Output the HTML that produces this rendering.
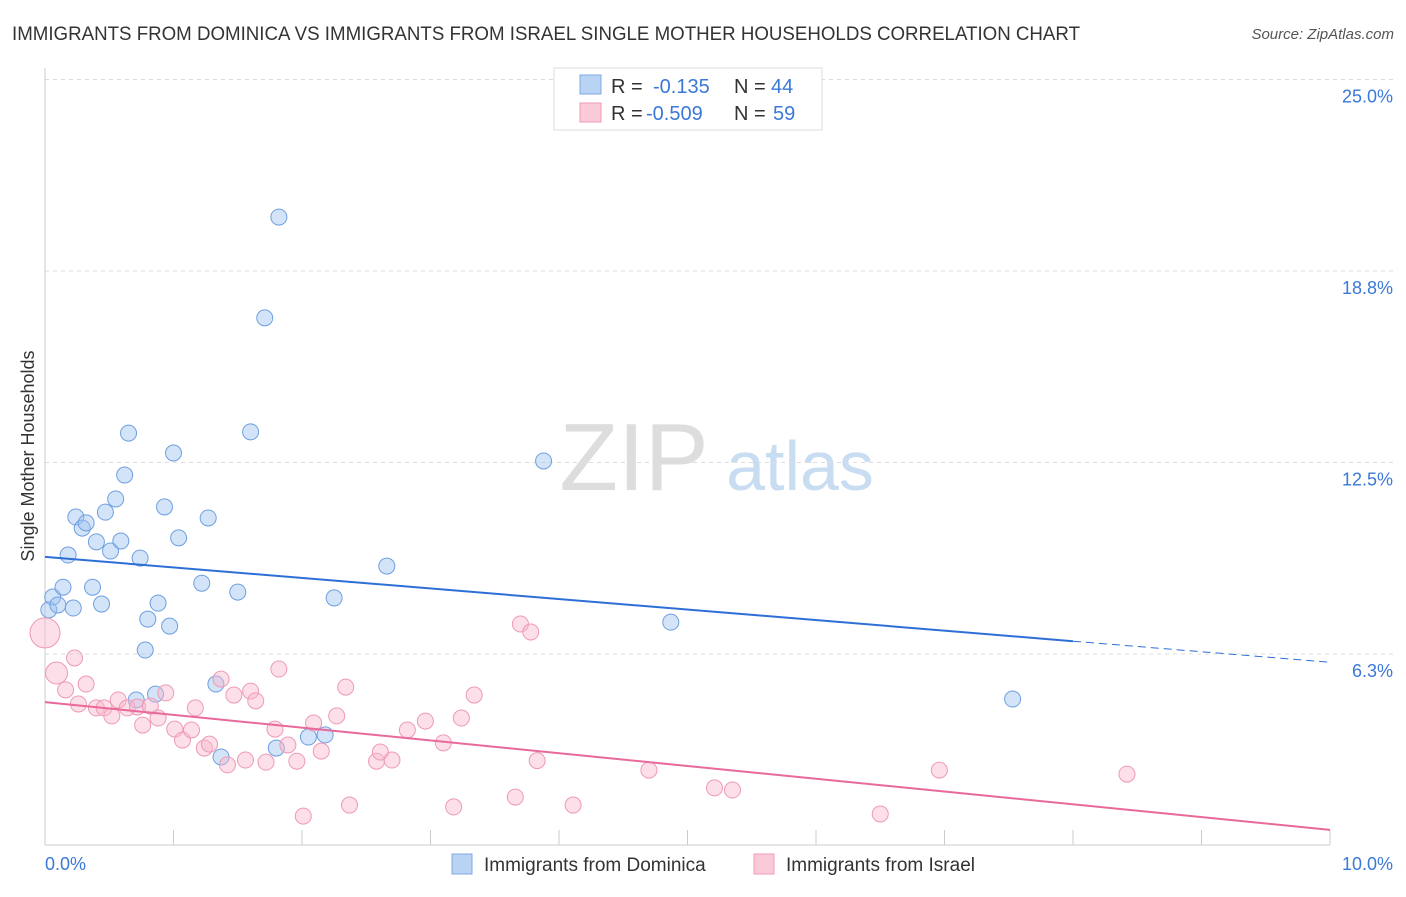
<!DOCTYPE html>
<html><head><meta charset="utf-8"><style>
body{margin:0;background:#fff;font-family:"Liberation Sans",sans-serif;}
svg text{font-family:"Liberation Sans",sans-serif;}
</style></head><body>
<svg id="chart" width="1406" height="892" xmlns="http://www.w3.org/2000/svg">
<text x="12" y="40" font-size="19" fill="#333" textLength="1068" lengthAdjust="spacingAndGlyphs">IMMIGRANTS FROM DOMINICA VS IMMIGRANTS FROM ISRAEL SINGLE MOTHER HOUSEHOLDS CORRELATION CHART</text>
<text x="1394" y="39" font-size="15" fill="#555" font-style="italic" text-anchor="end">Source: ZipAtlas.com</text>
<text transform="translate(34,456) rotate(-90)" font-size="18" fill="#333" text-anchor="middle">Single Mother Households</text>
<g>
<text x="634" y="490" font-size="96" fill="#ddd" font-family="Liberation Serif" text-anchor="middle">ZIP</text>
<text x="800" y="490" font-size="70" fill="#c8dcf2" text-anchor="middle">atlas</text>
</g>
<g id="grid"></g><g id="axes"></g><g id="pts"></g><g id="trend"></g>
<g>
<rect x="554" y="68" width="268" height="62" fill="#fff" stroke="#ddd"/>
<rect x="580" y="75" width="21" height="19" fill="#b9d3f5" stroke="#7fa9e4"/>
<rect x="580" y="103" width="21" height="19" fill="#fbcad8" stroke="#f09ab5"/>
<text x="611" y="93" font-size="20" fill="#333">R = </text><text x="653" y="93" font-size="20" fill="#3b78d8">-0.135</text>
<text x="734" y="93" font-size="20" fill="#333">N = </text><text x="771" y="93" font-size="20" fill="#3b78d8">44</text>
<text x="611" y="120" font-size="20" fill="#333">R = </text><text x="646" y="120" font-size="20" fill="#3b78d8">-0.509</text>
<text x="734" y="120" font-size="20" fill="#333">N = </text><text x="773" y="120" font-size="20" fill="#3b78d8">59</text>
</g>
<g>
<rect x="452" y="854" width="20" height="20" fill="#b9d3f5" stroke="#7fa9e4"/>
<text x="484" y="871" font-size="19" fill="#333">Immigrants from Dominica</text>
<rect x="754" y="854" width="20" height="20" fill="#fbcad8" stroke="#f09ab5"/>
<text x="786" y="871" font-size="19" fill="#333">Immigrants from Israel</text>
</g>
</svg>
<script>
const yTicks=[6.25,12.5,18.75,25];
const yTickLabels=["6.3%","12.5%","18.8%","25.0%"];
const xTickLabels=["0.0%","10.0%"];
const domX=[0.03,0.06,0.10,0.14,0.18,0.22,0.24,0.29,0.32,0.37,0.40,0.44,0.47,0.51,0.55,0.59,0.62,0.65,0.71,0.74,0.78,0.80,0.86,0.88,0.93,0.97,1.00,1.04,1.22,1.27,1.33,1.37,1.50,1.60,1.71,1.80,1.82,2.05,2.18,2.25,2.66,3.88,4.87,7.53];
const domY=[7.69,8.11,7.85,8.43,9.48,7.75,10.72,10.36,10.53,8.43,9.91,7.88,10.88,9.61,11.31,9.94,12.09,13.46,4.75,9.38,6.38,7.39,4.94,7.91,11.05,7.16,12.81,10.04,8.56,10.69,5.27,2.89,8.27,13.50,17.22,3.18,20.51,3.54,3.61,8.08,9.12,12.55,7.29,4.78];
const isrX=[0.00,0.09,0.23,0.16,0.32,0.26,0.40,0.46,0.57,0.52,0.64,0.72,0.76,0.82,0.88,0.94,1.01,1.07,1.14,1.17,1.24,1.28,1.37,1.42,1.47,1.56,1.60,1.64,1.72,1.79,1.82,1.89,1.96,2.01,2.09,2.15,2.27,2.34,2.37,2.58,2.61,2.70,2.82,2.96,3.10,3.18,3.24,3.34,3.66,3.70,3.78,3.83,4.11,4.70,5.21,5.35,6.50,6.96,8.42];
const isrY=[6.94,5.63,6.12,5.08,5.27,4.62,4.49,4.49,4.75,4.23,4.49,4.52,3.93,4.55,4.16,4.98,3.80,3.44,3.77,4.49,3.18,3.31,5.43,2.63,4.91,2.79,5.04,4.72,2.72,3.80,5.76,3.28,2.75,0.96,4.00,3.08,4.23,5.17,1.32,2.75,3.05,2.79,3.77,4.06,3.35,1.26,4.16,4.91,1.58,7.23,6.97,2.77,1.32,2.46,1.88,1.81,1.03,2.46,2.33];
const domTrend=[9.42,-0.344];
const isrTrend=[4.68,-0.417];
const X=v=>45+v*128.5, Y=v=>845.5-v*30.64;
const NS="http://www.w3.org/2000/svg";
function mk(tag,attrs,parent){const e=document.createElementNS(NS,tag);for(const k in attrs)e.setAttribute(k,attrs[k]);document.getElementById(parent).appendChild(e);return e;}
yTicks.forEach((t,i)=>{
 const g=mk('line',{x1:45,x2:1395,y1:Y(t),y2:Y(t),stroke:'#ddd','stroke-dasharray':'4,4'},'grid');
 
 
 const l=mk('text',{x:1393,y:Y(t)+23,'font-size':18,fill:'#3b78d8','text-anchor':'end'},'grid');l.textContent=yTickLabels[i];
 
 
});
mk('line',{x1:45,x2:45,y1:68,y2:845,stroke:'#ccc'},'axes');
mk('line',{x1:45,x2:1330,y1:845,y2:845,stroke:'#ccc'},'axes');
for(let i=1;i<=10;i++){const t=mk('line',{x1:X(i),x2:X(i),y1:830,y2:845,stroke:'#ccc'},'axes');
 
 }
[[0,45,'start'],[10,1393,'end']].forEach((a,i)=>{const t=mk('text',{x:a[1],y:870,'font-size':18,fill:'#3b78d8','text-anchor':a[2]},'axes');t.textContent=xTickLabels[i];
 
 });
domX.forEach((x,i)=>{const c=mk('circle',{cx:X(x),cy:Y(domY[i]),r:8,fill:'rgba(160,195,240,0.45)',stroke:'#6e9fe0','stroke-width':1},'pts');
 
 });
isrX.forEach((x,i)=>{const r=i==0?15:(i==1?11:8);const c=mk('circle',{cx:X(x),cy:Y(isrY[i]),r:r,fill:'rgba(248,185,205,0.45)',stroke:'#ee9ab5','stroke-width':1},'pts');
 
 });
const f=(t,x)=>t[0]+t[1]*x;
let l1=mk('line',{x1:X(0),y1:Y(f(domTrend,0)),x2:X(8),y2:Y(f(domTrend,8)),stroke:'#2d6fd6','stroke-width':2},'trend');


let l2=mk('line',{x1:X(8),y1:Y(f(domTrend,8)),x2:X(10),y2:Y(f(domTrend,10)),stroke:'#2d6fd6','stroke-width':1,'stroke-dasharray':'8,5'},'trend');


let l3=mk('line',{x1:X(0),y1:Y(f(isrTrend,0)),x2:X(10),y2:Y(f(isrTrend,10)),stroke:'#e8699a','stroke-width':2},'trend');


</script>
</body></html>
